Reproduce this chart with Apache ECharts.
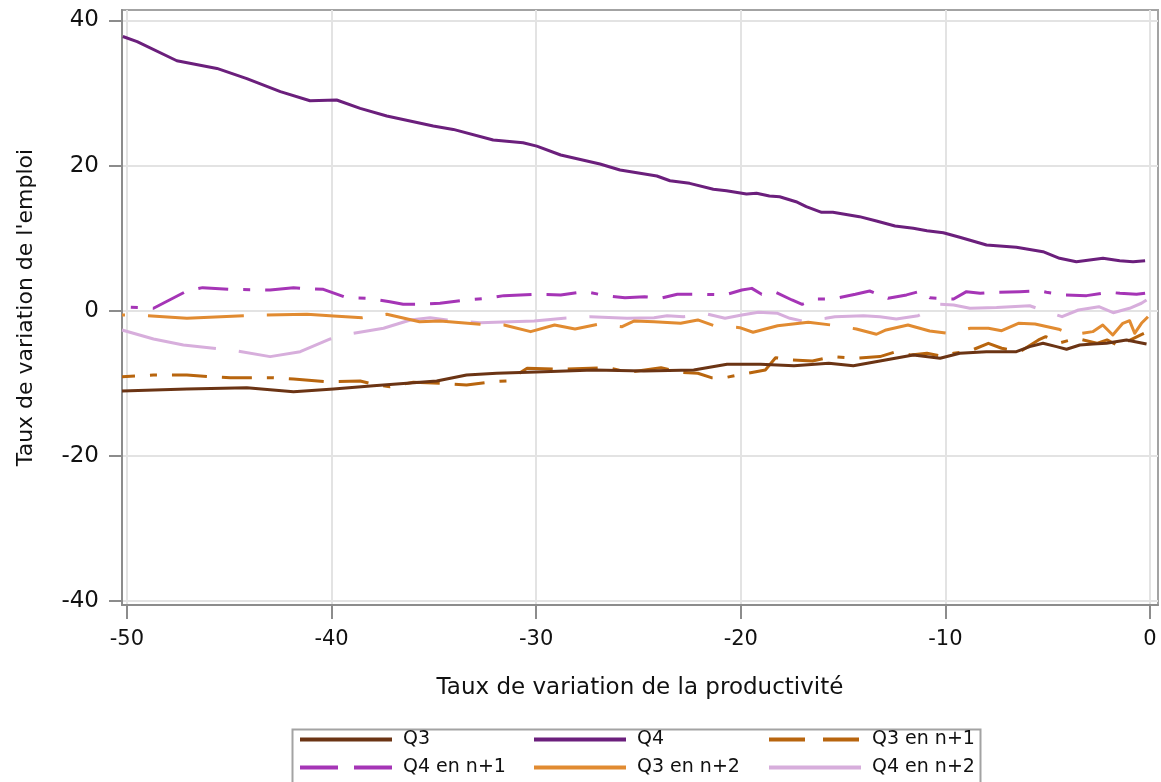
<!DOCTYPE html>
<html>
<head>
<meta charset="utf-8">
<script src="https://cdn.jsdelivr.net/npm/echarts@6/dist/echarts.min.js"></script>
<style>html,body{margin:0;padding:0;background:#fff;}#c{width:1161px;height:782px;}</style>
</head>
<body>
<div id="c"></div>
<script>
// ---- Data ----
const xTicks = [-50, -40, -30, -20, -10, 0];
const yTicks = [-40, -20, 0, 20, 40];

const q3X = [-50.24,-47.07,-44.14,-41.86,-39.9,-37.95,-34.86,-33.4,-31.93,-29.63,-27.18,-24.74,-22.3,-20.67,-19.04,-17.4,-15.7,-14.5,-13.2,-11.57,-10.26,-9.3,-8.0,-6.53,-5.88,-5.23,-4.57,-4.08,-3.43,-2.78,-2.13,-1.15,-0.17];
const q3Y = [-11.03,-10.76,-10.58,-11.13,-10.76,-10.3,-9.66,-8.83,-8.6,-8.37,-8.14,-8.28,-8.14,-7.36,-7.36,-7.55,-7.22,-7.55,-6.9,-6.07,-6.53,-5.84,-5.62,-5.62,-4.93,-4.47,-4.93,-5.29,-4.7,-4.56,-4.47,-4.0,-4.56];

const q4X = [-50.2,-49.5,-47.56,-45.6,-44.14,-42.5,-41.05,-39.75,-38.6,-37.3,-35.03,-34.05,-32.1,-30.64,-29.97,-28.8,-26.88,-25.9,-25.0,-24.1,-23.46,-22.5,-21.34,-20.7,-19.72,-19.23,-18.6,-18.1,-17.3,-16.8,-16.05,-15.5,-14.2,-13.37,-12.46,-11.57,-10.9,-10.1,-9.3,-7.99,-6.53,-5.23,-4.42,-3.6,-2.3,-1.48,-0.83,-0.24];
const q4Y = [37.8,37.1,34.46,33.4,32.0,30.2,28.95,29.05,27.9,26.85,25.47,25.0,23.54,23.17,22.7,21.47,20.23,19.4,19.0,18.58,17.93,17.57,16.75,16.56,16.1,16.2,15.83,15.73,15.04,14.35,13.58,13.58,12.98,12.38,11.69,11.38,11.05,10.77,10.14,9.08,8.76,8.15,7.24,6.78,7.24,6.91,6.78,6.91];

const q3n1X = [-50.24,-48.7,-47.07,-45.93,-44.95,-42.84,-41.86,-40.23,-38.6,-37.95,-37.15,-36.0,-34.7,-33.4,-32.1,-31.42,-30.44,-28.8,-26.53,-25.5,-23.9,-22.94,-22.1,-21.44,-20.77,-19.95,-18.8,-18.3,-17.6,-16.5,-15.5,-14.35,-13.2,-12.5,-11.7,-10.9,-10.1,-9.6,-8.8,-7.9,-7.25,-6.35,-5.45,-5.1,-4.4,-3.6,-2.6,-2.1,-1.47,-1.14,-0.3];
const q3n1Y = [-9.06,-8.83,-8.83,-9.06,-9.2,-9.2,-9.38,-9.75,-9.66,-10.11,-10.44,-9.84,-9.97,-10.2,-9.75,-9.66,-7.9,-8.04,-7.82,-8.46,-7.82,-8.46,-8.6,-9.2,-9.2,-8.74,-8.14,-6.45,-6.76,-6.9,-6.3,-6.53,-6.3,-5.7,-6.07,-5.84,-6.3,-5.84,-5.52,-4.47,-5.15,-5.62,-4.0,-3.55,-4.4,-3.77,-4.47,-4.0,-4.93,-4.24,-3.09];

const q4n1X = [-50.2,-49.85,-48.7,-47.07,-46.3,-44.95,-43.0,-41.86,-41.4,-40.4,-39.26,-38.28,-37.15,-36.5,-35.6,-34.7,-33.4,-32.4,-31.57,-29.9,-28.8,-27.6,-26.6,-25.66,-24.7,-23.95,-23.1,-21.8,-20.77,-19.95,-19.46,-18.98,-18.3,-17.5,-17.0,-16.35,-15.5,-14.4,-13.7,-12.8,-11.9,-11.17,-10.77,-9.95,-9.6,-8.97,-8.3,-7.66,-6.36,-5.38,-5.06,-4.16,-3.1,-1.96,-1.47,-0.66,-0.24];
const q4n1Y = [0.5,0.5,0.36,2.74,3.2,2.97,2.88,3.2,3.1,2.97,1.82,1.73,1.27,0.9,0.9,1.05,1.5,1.73,2.1,2.28,2.2,2.65,2.1,1.82,1.96,1.73,2.28,2.28,2.2,2.88,3.1,2.28,2.56,1.5,0.9,1.64,1.64,2.28,2.74,1.73,2.2,2.74,1.82,1.64,1.64,2.65,2.42,2.56,2.65,2.74,2.56,2.2,2.1,2.56,2.42,2.28,2.42];

const q3n2X = [-50.24,-49.0,-47.07,-44.3,-43.2,-41.2,-39.9,-38.5,-37.3,-35.7,-34.7,-32.74,-31.57,-30.27,-29.1,-28.1,-27.0,-25.8,-25.2,-24.24,-22.94,-22.1,-21.3,-20.05,-19.4,-18.2,-16.7,-15.6,-14.35,-13.37,-12.9,-11.83,-10.77,-9.87,-8.78,-7.9,-7.25,-6.43,-5.62,-4.46,-3.6,-3.32,-2.8,-2.31,-1.82,-1.33,-1.0,-0.75,-0.42,-0.1];
const q3n2Y = [-0.56,-0.66,-1.02,-0.66,-0.56,-0.47,-0.7,-0.94,-0.47,-1.49,-1.39,-1.85,-1.94,-2.86,-1.94,-2.49,-1.85,-2.18,-1.39,-1.49,-1.71,-1.25,-2.04,-2.31,-2.95,-2.04,-1.57,-1.94,-2.49,-3.22,-2.63,-1.94,-2.77,-3.09,-2.4,-2.4,-2.73,-1.71,-1.8,-2.53,-3.55,-3.09,-2.86,-1.94,-3.32,-1.71,-1.35,-3.09,-1.71,-0.8];

const q4n2X = [-50.24,-48.7,-47.24,-45.77,-44.63,-43.0,-41.53,-40.06,-38.92,-37.46,-36.15,-35.18,-34.36,-32.74,-30.1,-28.65,-27.35,-25.56,-24.24,-23.6,-22.8,-21.6,-20.77,-19.95,-19.14,-18.2,-17.6,-17.0,-15.85,-15.4,-14.0,-13.2,-12.4,-11.33,-10.26,-9.6,-8.8,-7.5,-5.88,-4.7,-4.3,-3.5,-2.5,-1.8,-1.0,-0.42,-0.17];
const q4n2Y = [-2.63,-3.87,-4.7,-5.15,-5.52,-6.3,-5.62,-3.87,-3.09,-2.4,-1.25,-0.94,-1.25,-1.63,-1.39,-1.02,-0.8,-1.02,-0.94,-0.66,-0.8,-0.47,-1.02,-0.56,-0.19,-0.33,-1.02,-1.39,-1.02,-0.8,-0.66,-0.8,-1.12,-0.66,0.9,0.8,0.36,0.45,0.71,-0.43,-0.8,0.12,0.58,-0.25,0.36,1.05,1.5];

const pairs = (xs, ys) => xs.map((x, i) => [x, ys[i]]);

const FONT = 'DejaVu Sans';
const dashDot = [7, 15, 35, 15, 30, 15];
const longDash = [96, 23];

function line(name, xs, ys, color, type, offset, z) {
  return {
    name, type: 'line', data: pairs(xs, ys), symbol: 'none', z: z,
    lineStyle: { color, width: 3, type, dashOffset: offset || 0, cap: 'butt', join: 'round' },
    itemStyle: { color },
    emphasis: { disabled: true }, silent: true, animation: false
  };
}

function legendBlock(left, items) {
  return {
    orient: 'vertical', left: left, top: 730,
    itemWidth: 92, itemHeight: 20, itemGap: 9, padding: 0,
    selectedMode: false,
    textStyle: { fontFamily: FONT, fontSize: 19, color: '#111', padding: [0, 0, 0, 6] },
    itemStyle: { color: 'rgba(0,0,0,0)', opacity: 0, borderWidth: 0 },
    lineStyle: { width: 4, dashOffset: 0 },
    data: items
  };
}

const chart = echarts.init(document.getElementById('c'), null, { renderer: 'canvas' });
chart.setOption({
  backgroundColor: '#ffffff',
  animation: false,
  grid: { left: 122, right: 3, top: 10, bottom: 177, show: true, borderColor: '#a3a3a3', borderWidth: 2, backgroundColor: 'transparent' },
  xAxis: {
    type: 'value', min: -50.24, max: 0.39,
    name: 'Taux de variation de la productivité', nameLocation: 'middle', nameGap: 72,
    nameTextStyle: { fontFamily: FONT, fontSize: 23, color: '#111' },
    axisLine: { show: true, onZero: false, lineStyle: { color: '#8c8c8c', width: 2 } },
    axisTick: { show: true, length: 14, customValues: xTicks, lineStyle: { color: '#8c8c8c', width: 2 } },
    axisLabel: { customValues: xTicks, margin: 24, fontFamily: FONT, fontSize: 21, color: '#111' },
    splitLine: { show: true, customValues: xTicks, lineStyle: { color: '#e3e3e3', width: 2 } }
  },
  yAxis: {
    type: 'value', min: -40.52, max: 41.45,
    name: "Taux de variation de l'emploi", nameLocation: 'middle', nameGap: 85,
    nameTextStyle: { fontFamily: FONT, fontSize: 22, color: '#111' },
    axisLine: { show: true, onZero: false, lineStyle: { color: '#8c8c8c', width: 2 } },
    axisTick: { show: true, length: 13, customValues: yTicks, lineStyle: { color: '#8c8c8c', width: 2 } },
    axisLabel: { customValues: yTicks, margin: 23, fontFamily: FONT, fontSize: 23, color: '#111' },
    splitLine: { show: true, customValues: yTicks, lineStyle: { color: '#e3e3e3', width: 2 } }
  },
  legend: [
    legendBlock(298, [
      { name: 'Q3', lineStyle: { type: 'solid', width: 4, dashOffset: 0 } },
      { name: 'Q4 en n+1', lineStyle: { type: [38, 16], width: 4, dashOffset: 0 } }
    ]),
    legendBlock(532, [
      { name: 'Q4', lineStyle: { type: 'solid', width: 4, dashOffset: 0 } },
      { name: 'Q3 en n+2', lineStyle: { type: 'solid', width: 4, dashOffset: 0 } }
    ]),
    legendBlock(767, [
      { name: 'Q3 en n+1', lineStyle: { type: [36, 18], width: 4, dashOffset: 0 } },
      { name: 'Q4 en n+2', lineStyle: { type: 'solid', width: 4, dashOffset: 0 } }
    ])
  ],
  graphic: [{
    type: 'rect', left: 290, top: 727, silent: true,
    shape: { width: 688, height: 70 },
    style: { fill: 'none', stroke: '#a3a3a3', lineWidth: 2 }
  }],
  series: [
    line('Q3', q3X, q3Y, '#6b3414', 'solid', 0, 7),
    line('Q4', q4X, q4Y, '#6b1f7c', 'solid', 0, 7),
    line('Q3 en n+1', q3n1X, q3n1Y, '#b8650e', dashDot, 89, 5),
    line('Q4 en n+1', q4n1X, q4n1Y, '#a535b6', dashDot, 109, 5),
    line('Q3 en n+2', q3n2X, q3n2Y, '#e18b31', longDash, 93, 4),
    line('Q4 en n+2', q4n2X, q4n2Y, '#d7aedc', longDash, 0, 3)
  ]
});
</script>
</body>
</html>
